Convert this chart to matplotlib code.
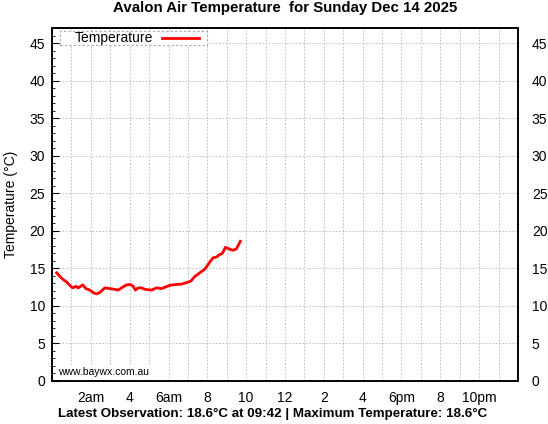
import matplotlib
matplotlib.use("Agg")
import matplotlib.pyplot as plt
from matplotlib.ticker import MultipleLocator
from matplotlib.patches import Rectangle
from matplotlib.lines import Line2D

plt.rcParams['font.family'] = ['Liberation Sans', 'DejaVu Sans']

hours = [0.24, 0.41, 0.58, 0.75, 0.93, 1.06, 1.23, 1.35, 1.58, 1.75, 1.95, 2.16, 2.30,
         2.47, 2.72, 2.98, 3.24, 3.41, 3.58, 3.84, 4.05, 4.18, 4.30, 4.44, 4.61, 4.80,
         5.13, 5.38, 5.64, 6.07, 6.41, 6.67, 6.93, 7.15, 7.35, 7.61, 7.87, 8.09, 8.29,
         8.47, 8.64, 8.78, 8.93, 9.15, 9.32, 9.50, 9.70]
temps = [14.4, 13.9, 13.5, 13.2, 12.7, 12.4, 12.6, 12.4, 12.8, 12.3, 12.1, 11.7, 11.6,
         11.8, 12.4, 12.3, 12.2, 12.1, 12.4, 12.8, 12.85, 12.6, 12.1, 12.4, 12.4, 12.2,
         12.1, 12.4, 12.3, 12.75, 12.85, 12.9, 13.1, 13.3, 13.9, 14.4, 14.9, 15.7, 16.4,
         16.5, 16.85, 17.0, 17.8, 17.55, 17.4, 17.6, 18.6]

xtick_pos = [2, 4, 6, 8, 10, 12, 14, 16, 18, 20, 22]
xtick_labels = ['2am', '4', '6am', '8', '10', '12', '2', '4', '6pm', '8', '10pm']
yticks = [0, 5, 10, 15, 20, 25, 30, 35, 40, 45]

W, H = 548, 424
fig = plt.figure(figsize=(W/100, H/100), dpi=100)
ax = fig.add_axes([52/W, 1-381/H, 466/W, 353/H])
ax.set_xlim(0, 24)
ax.set_ylim(0, 47)

ax.plot(hours, temps, color='#ff0000', lw=2, label='Temperature', zorder=3)

ax.set_xticks(xtick_pos)
ax.set_xticklabels(xtick_labels)
ax.xaxis.set_minor_locator(MultipleLocator(1))
ax.set_yticks(yticks)
ax.yaxis.set_minor_locator(MultipleLocator(1))
ax.tick_params(axis='both', which='both', direction='in', labelsize=10, colors='black')
ax.tick_params(axis='x', which='both', length=0, pad=7)
ax.tick_params(axis='y', which='major', length=5, left=True, right=True, pad=5)
ax.tick_params(axis='y', which='minor', length=2.5, left=True, right=True)

ax2 = ax.twinx()
ax2.set_ylim(0, 47)
ax2.set_yticks(yticks)
ax2.tick_params(axis='y', which='both', length=0, labelsize=10, pad=10)

ax.grid(True, which='minor', axis='x', color='#b8b8b8', ls=(0, (2, 2)), lw=0.6)
ax.grid(True, which='major', axis='x', color='#b8b8b8', ls=(0, (2, 2)), lw=0.6)
ax.grid(True, which='major', axis='y', color='#b8b8b8', ls=(0, (2, 2)), lw=0.6)
ax.set_axisbelow(True)
for s in list(ax.spines.values()) + list(ax2.spines.values()):
    s.set_linewidth(1.2)

ax.set_ylabel('Temperature (°C)', fontsize=10, labelpad=8)

# legend box
fig.patches.append(Rectangle((60/W, 1-45/H), 147/W, 14/H, transform=fig.transFigure,
                             facecolor='white', edgecolor='#a8a8a8', lw=0.8,
                             ls=(0, (2, 2)), zorder=5))
fig.text(75/W, 1-38/H, 'Temperature', ha='left', va='center', fontsize=10, zorder=6)
fig.lines.append(Line2D([162/W, 199/W], [1-38/H, 1-38/H], transform=fig.transFigure,
                        color='#ff0000', lw=2, zorder=6))

ax.text(0.013, 0.012, 'www.baywx.com.au', transform=ax.transAxes, fontsize=7.5,
        ha='left', va='bottom', bbox=dict(facecolor='white', edgecolor='none', pad=1))

fig.text(285/W, 1-8/H, 'Avalon Air Temperature  for Sunday Dec 14 2025',
         ha='center', va='center', fontsize=10.8, fontweight='bold')
fig.text(273/W, 1-414/H,
         'Latest Observation: 18.6°C at 09:42 | Maximum Temperature: 18.6°C',
         ha='center', va='center', fontsize=9.6, fontweight='bold')

fig.savefig('out.png', dpi=100)
